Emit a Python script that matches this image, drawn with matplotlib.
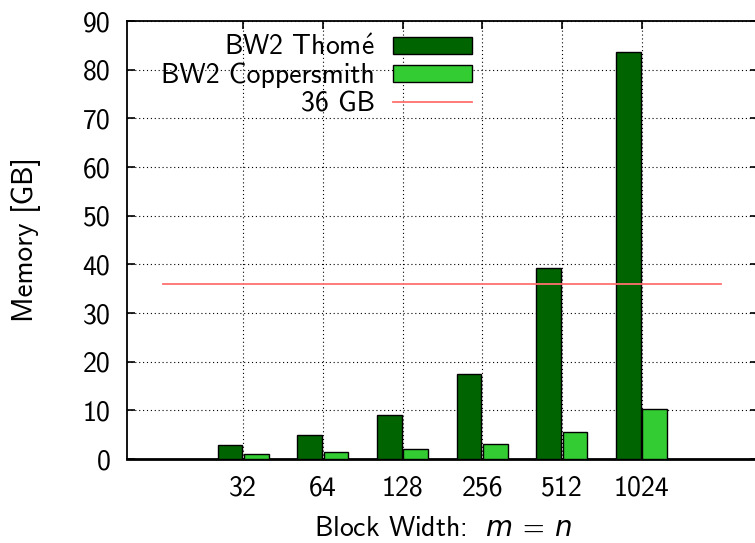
import numpy as np
import matplotlib
matplotlib.use("Agg")
import matplotlib.pyplot as plt

plt.rcParams['font.family'] = ['cmss10', 'DejaVu Sans']
plt.rcParams['mathtext.fontset'] = 'custom'
plt.rcParams['mathtext.rm'] = 'cmss10'
plt.rcParams['mathtext.it'] = 'DejaVu Sans:italic'
plt.rcParams['axes.unicode_minus'] = False

block_widths = ["32", "64", "128", "256", "512", "1024"]
thome = [2.8, 4.9, 9.0, 17.5, 39.2, 83.6]
coppersmith = [0.95, 1.35, 2.0, 3.1, 5.5, 10.2]
limit_gb = 36

fs = 20

fig = plt.figure(figsize=(7.55, 5.43), dpi=100)
ax = fig.add_axes([127/755, 84/543, 631/755, 438/543])

x = np.arange(len(block_widths))
w = 0.31
h1 = ax.bar(x - w/2 - 0.01, thome, w, color="#006400", edgecolor="black", linewidth=1,
            label="BW2 Thom$\\acute{\\mathrm{e}}$", zorder=3)
h2 = ax.bar(x + w/2 + 0.01, coppersmith, w, color="#33cc33", edgecolor="black", linewidth=1,
            label="BW2 Coppersmith", zorder=3)
h3, = ax.plot([x[0] - 1, x[-1] + 1], [limit_gb, limit_gb], color="#ff7070", lw=1.3,
              label="36 GB", zorder=4)

ax.set_xlim(-1.457, 6.46)
ax.set_ylim(0, 90)
ax.set_yticks(np.arange(0, 91, 10))

ax.set_xticks(x)
ax.set_xticklabels(block_widths)
ax.tick_params(axis='x', bottom=False, top=True, direction='in', length=6,
               width=1.2, pad=12, labelsize=fs)
ax.tick_params(axis='y', direction='in', left=True, right=True, length=6,
               width=1.2, labelsize=fs, pad=12)

ax.grid(color='black', linestyle=(0, (1, 2.5)), lw=0.8)
ax.set_axisbelow(True)

for s in ['top', 'left', 'right']:
    ax.spines[s].set_linewidth(1.3)
ax.spines['bottom'].set_linewidth(2)

ax.set_xlabel("Block Width:  $m\\,=\\,n$", fontsize=fs, labelpad=11)
ax.set_ylabel("Memory [GB]", fontsize=21, labelpad=30)

ax.legend(handles=[h1, h2, h3], loc='upper right',
          bbox_to_anchor=(472/755, 1 - 34/543),
          bbox_transform=fig.transFigure, frameon=False, markerfirst=False,
          fontsize=fs, handlelength=2.85, handleheight=0.55, handletextpad=0.65,
          labelspacing=0.1, borderpad=0, borderaxespad=0)

fig.savefig("out.png", dpi=100)
